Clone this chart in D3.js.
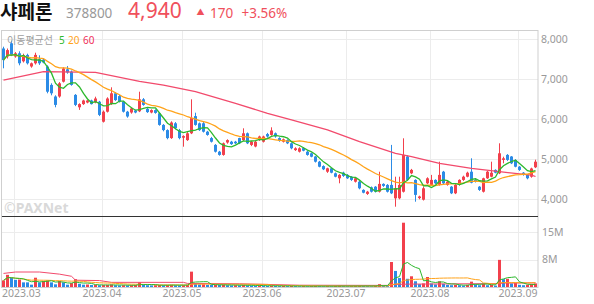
<!DOCTYPE html>
<html>
<head>
<meta charset="utf-8">
<script src="https://cdn.jsdelivr.net/npm/d3@7"></script>
<style>
body { margin: 0; background: #fff; }
text { font-family: "Noto Sans", "Noto Sans CJK KR", sans-serif; }
</style>
</head>
<body>
<div id="c1"></div>
<script>
// Data (daily candles, 2023-02-24 .. 2023-09-07)
var opens = [7770,7570,7900,7570,7650,7450,7610,7320,7400,7500,
  7490,7320,6860,6570,6570,6940,7250,7190,6610,6300,
  6380,6420,6470,6420,6440,5940,6190,6380,6650,6580,
  6440,6190,6170,6220,6200,6500,6260,6170,6230,6150,
  5860,5730,5530,5900,5730,5540,5480,5650,6080,5900,
  5900,5690,5530,5360,5190,5110,5420,5440,5440,5530,
  5480,5650,5360,5320,5480,5440,5630,5610,5650,5530,
  5440,5480,5400,5230,5190,5280,5190,5150,5070,4940,
  4830,4690,4775,4650,4525,4665,4610,4565,4440,4440,
  4235,4135,4300,4315,4190,4385,4360,4360,4025,4025,
  4190,5070,4650,4485,4030,3990,4400,4360,4485,4360,
  4690,4360,4315,4150,4360,4485,4565,4690,4485,4315,
  4190,4525,4565,4735,4650,4985,5110,5070,4985,4815,
  4665,4610,4565,4800];
var highs = [7815,7770,7965,7680,7700,7640,7640,7420,7665,7600,
  7520,7350,6900,6600,6930,7300,7330,7220,6630,6400,
  6490,6480,6490,6565,6460,6220,6550,6800,6680,6610,
  6460,6210,6300,6240,6690,6530,6280,6250,6250,6170,
  5880,5750,5950,5930,5760,5600,5680,6500,6165,5920,
  5930,5710,5560,5380,5210,5420,5500,5460,5460,5540,
  5775,5670,5460,5460,5590,5590,5660,5800,5670,5550,
  5520,5500,5420,5300,5300,5300,5210,5170,5080,4960,
  4850,4790,4790,4670,4630,4690,4630,4580,4540,4460,
  4250,4210,4320,4330,4690,4400,4380,5360,4565,4565,
  5525,5100,4760,4500,4090,4320,4550,4610,4500,4940,
  4710,4460,4330,4380,4500,4590,4690,5025,4525,4330,
  4540,4710,4940,4750,5400,5065,5130,5080,5000,4830,
  4680,4620,4790,4990];
var lows = [7275,7520,7580,7540,7350,7420,7370,7290,7370,7360,
  7400,6650,6600,6300,6540,6920,7140,6840,6330,6235,
  6360,6400,6370,6400,6080,5920,6170,6360,6460,6420,
  6170,6040,6140,6150,6180,6340,6160,6150,6140,5840,
  5700,5500,5510,5750,5500,5315,5460,5630,5840,5710,
  5670,5590,5420,5170,5090,5090,5390,5360,5380,5380,
  5460,5380,5330,5300,5460,5420,5540,5590,5540,5440,
  5420,5380,5250,5210,5170,5200,5090,5050,4920,4800,
  4730,4660,4650,4550,4400,4560,4510,4460,4420,4250,
  4150,4110,4170,4170,4170,4310,4170,4130,3815,4000,
  4170,4460,4630,3940,4000,3970,4380,4340,4380,4340,
  4380,4340,4130,4130,4340,4460,4550,4400,4420,4210,
  4170,4510,4550,4650,4630,4900,4960,4880,4800,4710,
  4590,4500,4540,4780];
var closes = [7480,7730,7610,7650,7400,7600,7400,7400,7610,7400,
  7420,6690,6650,6360,6900,7270,7170,6860,6360,6380,
  6470,6470,6380,6520,6110,6190,6520,6650,6480,6440,
  6190,6070,6270,6170,6500,6360,6180,6230,6160,5860,
  5730,5530,5920,5780,5530,5580,5650,6030,5860,5730,
  5690,5610,5440,5190,5110,5400,5480,5380,5400,5400,
  5650,5400,5440,5440,5570,5570,5570,5720,5570,5460,
  5500,5400,5275,5275,5275,5215,5110,5065,4940,4815,
  4750,4775,4665,4565,4610,4585,4525,4485,4525,4275,
  4165,4190,4190,4190,4385,4335,4190,4150,4275,4360,
  5110,4485,4735,4110,4070,4275,4525,4485,4400,4610,
  4400,4440,4150,4360,4485,4565,4665,4415,4440,4235,
  4525,4690,4665,4665,5150,5025,4985,4900,4815,4735,
  4610,4525,4770,4940];
// volume, millions of shares
var volumes = [1.85,3.4,2.6,2.0,2.1,1.3,1.3,0.65,2.6,1.3,
  1.7,1.85,1.3,0.75,1.7,1.3,0.65,1.1,2.2,0.9,
  0.65,0.7,0.55,0.6,0.5,0.55,0.6,0.7,0.5,0.45,
  0.5,0.45,0.5,0.55,1.3,0.6,0.5,0.45,0.5,0.55,
  0.5,0.55,0.6,0.5,0.45,0.5,0.6,4.3,1.1,0.7,
  0.75,0.6,0.55,0.6,0.55,0.65,0.5,0.45,0.5,0.45,
  0.55,0.45,0.4,0.35,0.4,0.35,0.3,0.35,0.3,0.25,
  0.3,0.25,0.3,0.25,0.2,0.25,0.2,0.25,0.3,0.25,
  0.2,0.25,0.2,0.3,0.35,0.25,0.2,0.25,0.3,0.35,
  0.3,0.25,0.2,0.3,0.8,0.3,0.25,7.0,4.5,2.5,
  18.0,2.3,3.0,1.6,0.8,1.0,2.8,1.0,0.7,1.6,
  0.9,0.6,0.5,0.6,0.5,0.4,0.6,1.5,0.7,0.5,
  0.9,0.5,0.6,0.4,7.6,2.2,2.3,1.0,1.1,0.6,
  0.5,0.6,0.8,1.0];
// 60-day averages: [candle index, value]
var priceMa60 = [[0,6980],[10,7190],[23,7175],[34,6950],[40,6857],[48,6690],[58,6400],
  [66,6150],[72,5985],[81,5735],[89,5440],[98,5150],[102,5065],[109,4900],
  [117,4775],[124,4690],[132,4605],[133,4570]];
var volumeMa60 = [[0,3.8],[3,4.2],[9,4.2],[14,3.6],[17,3.0],[18,1.9],[24,1.8],[27,1.3],
  [45,1.3],[46,1.0],[59,0.9],[74,0.5],[96,0.45],[97,0.7],[101,0.8],[124,0.95],
  [125,1.1],[133,1.15]];
var monthLabels = ["2023.03","2023.04","2023.05","2023.06","2023.07","2023.08","2023.09"];
var monthStart = [3,25,45,65,86,107,129];
var priceTicks = [4000,5000,6000,7000,8000];
var volumeTicks = [7.7,15.4];

var w = 594, h = 304;
var red = "#f2404c", blue = "#2b8be6";
var maColors = {5: "#2db92d", 20: "#ffa31a", 60: "#f24a6c"};

function movingAvg(arr, n) {
    return arr.map(function (d, i) {
        var s = arr.slice(Math.max(0, i - n + 1), i + 1);
        return d3.mean(s);
    });
}

function draw() {
    var svg = d3.select("#c1").append("svg")
        .attr("width", w).attr("height", h);

    var idx = d3.range(closes.length);
    var x = d3.scaleBand().domain(idx).range([2, 538]).padding(0);
    var y = d3.scaleLinear().domain([4000, 8000]).range([199.3, 39.3]);
    var yv = d3.scaleLinear().domain([0, 15.4]).range([287, 232]);
    var cx = function (i) { return x(i) + 1.5; };

    // Title
    var title = svg.append("g");
    title.append("text").attr("x", 0).attr("y", 18.5)
        .attr("font-size", 19).attr("font-weight", "bold").attr("fill", "#111")
        .style("font-family", "'Noto Sans CJK KR', sans-serif").text("샤페론");
    title.append("text").attr("x", 66).attr("y", 17.5)
        .attr("font-size", 13.5).attr("fill", "#999").text("378800");
    title.append("text").attr("x", 128).attr("y", 18)
        .attr("font-size", 21).attr("fill", "#f0505c").text("4,940");
    title.append("text").attr("x", 196.5).attr("y", 14.8)
        .attr("font-size", 8).attr("fill", "#f0505c").text("▲");
    title.append("text").attr("x", 210).attr("y", 17.5)
        .attr("font-size", 13.5).attr("fill", "#f0505c").text("170");
    title.append("text").attr("x", 241.5).attr("y", 17.5)
        .attr("font-size", 13.5).attr("fill", "#f0505c").text("+3.56%");

    // Grid
    var grid = svg.append("g").attr("stroke", "#ececec").attr("stroke-width", 1);
    grid.selectAll("line.ph").data(priceTicks).enter().append("line")
        .attr("x1", 2).attr("x2", 538)
        .attr("y1", function (d) { return Math.round(y(d)) + 0.5; })
        .attr("y2", function (d) { return Math.round(y(d)) + 0.5; });
    grid.selectAll("line.vh").data(volumeTicks).enter().append("line")
        .attr("x1", 2).attr("x2", 538)
        .attr("y1", function (d) { return Math.round(yv(d)) + 0.5; })
        .attr("y2", function (d) { return Math.round(yv(d)) + 0.5; });
    grid.selectAll("line.mv").data(monthStart).enter().append("line")
        .attr("x1", function (d) { return x(d) + 0.5; })
        .attr("x2", function (d) { return x(d) + 0.5; })
        .attr("y1", 30).attr("y2", 287);

    // Watermark
    svg.append("text").attr("x", 4).attr("y", 213)
        .attr("font-size", 14).attr("font-weight", "bold").attr("fill", "#d9d9d9")
        .text("©PAXNet");

    // Candles
    var candles = svg.append("g").selectAll("g").data(idx).enter().append("g");
    candles.append("line")
        .attr("x1", cx).attr("x2", cx)
        .attr("y1", function (i) { return y(highs[i]); })
        .attr("y2", function (i) { return y(lows[i]); })
        .attr("stroke", function (i) { return closes[i] >= opens[i] ? red : blue; })
        .attr("stroke-width", 1);
    candles.append("rect")
        .attr("x", function (i) { return x(i); })
        .attr("width", 3)
        .attr("y", function (i) { return y(Math.max(opens[i], closes[i])); })
        .attr("height", function (i) {
            return Math.max(1, Math.abs(y(opens[i]) - y(closes[i])));
        })
        .attr("fill", function (i) { return closes[i] >= opens[i] ? red : blue; });

    // Price moving averages
    var line = d3.line()
        .x(function (d) { return cx(d[0]); })
        .y(function (d) { return y(d[1]); });
    var ma5 = movingAvg(closes, 5), ma20 = movingAvg(closes, 20);
    svg.append("path").datum(priceMa60)
        .attr("d", line).attr("fill", "none")
        .attr("stroke", maColors[60]).attr("stroke-width", 1.3);
    svg.append("path").datum(ma20.map(function (d, i) { return [i, d]; }))
        .attr("d", line).attr("fill", "none")
        .attr("stroke", maColors[20]).attr("stroke-width", 1.3);
    svg.append("path").datum(ma5.map(function (d, i) { return [i, d]; }))
        .attr("d", line).attr("fill", "none")
        .attr("stroke", maColors[5]).attr("stroke-width", 1.3);

    // Volume bars
    svg.append("g").selectAll("rect").data(idx).enter().append("rect")
        .attr("x", function (i) { return x(i); })
        .attr("width", 3)
        .attr("y", function (i) { return yv(volumes[i]); })
        .attr("height", function (i) { return 287 - yv(volumes[i]); })
        .attr("fill", function (i) {
            return (i == 0 || volumes[i] > volumes[i - 1]) ? red : blue;
        });

    var vline = d3.line()
        .x(function (d) { return cx(d[0]); })
        .y(function (d) { return yv(d[1]); });
    var vma5 = movingAvg(volumes, 5), vma20 = movingAvg(volumes, 20);
    svg.append("path").datum(volumeMa60)
        .attr("d", vline).attr("fill", "none")
        .attr("stroke", maColors[60]).attr("stroke-width", 1);
    svg.append("path").datum(vma20.map(function (d, i) { return [i, d]; }))
        .attr("d", vline).attr("fill", "none")
        .attr("stroke", maColors[20]).attr("stroke-width", 1);
    svg.append("path").datum(vma5.map(function (d, i) { return [i, d]; }))
        .attr("d", vline).attr("fill", "none")
        .attr("stroke", maColors[5]).attr("stroke-width", 1);

    // Legend
    var lg = svg.append("text").attr("x", 7).attr("y", 44).attr("font-size", 10);
    lg.append("tspan").attr("fill", "#a0a0a0")
        .style("font-family", "'Noto Sans CJK KR', sans-serif").text("이동평균선");
    lg.append("tspan").attr("x", 59).attr("fill", maColors[5]).text("5");
    lg.append("tspan").attr("x", 68).attr("fill", maColors[20]).text("20");
    lg.append("tspan").attr("x", 83).attr("fill", "#f0305a").text("60");

    // Frame and panel separator
    svg.append("rect").attr("x", 1.5).attr("y", 30.5).attr("width", 536.5).attr("height", 257)
        .attr("fill", "none").attr("stroke", "#cfcfcf");
    svg.append("line").attr("x1", 2).attr("x2", 538).attr("y1", 216.5).attr("y2", 216.5)
        .attr("stroke", "#333");

    // Right axes
    var yAxis = d3.axisRight(y).tickValues(priceTicks).tickSize(0).tickPadding(3)
        .tickFormat(d3.format(","));
    var ga = svg.append("g").attr("transform", "translate(538,0)").call(yAxis);
    var vAxis = d3.axisRight(yv).tickValues(volumeTicks).tickSize(0).tickPadding(4)
        .tickFormat(function (d) { return Math.round(d) + "M"; });
    var gv = svg.append("g").attr("transform", "translate(538,0)").call(vAxis);
    [ga, gv].forEach(function (g) {
        g.select(".domain").remove();
        g.selectAll("text").attr("fill", "#999").attr("font-size", 10.5)
            .style("font-family", "'Noto Sans', sans-serif");
    });

    // Month labels
    svg.append("g").selectAll("text").data(monthStart).enter().append("text")
        .attr("x", function (d, k) { return k == 0 ? 2 : x(d); })
        .attr("y", 297)
        .attr("text-anchor", function (d, k) { return k == 0 ? "start" : "middle"; })
        .attr("font-size", 10.5).attr("fill", "#999")
        .text(function (d, k) { return monthLabels[k]; });
}

draw();
</script>
</body>
</html>
